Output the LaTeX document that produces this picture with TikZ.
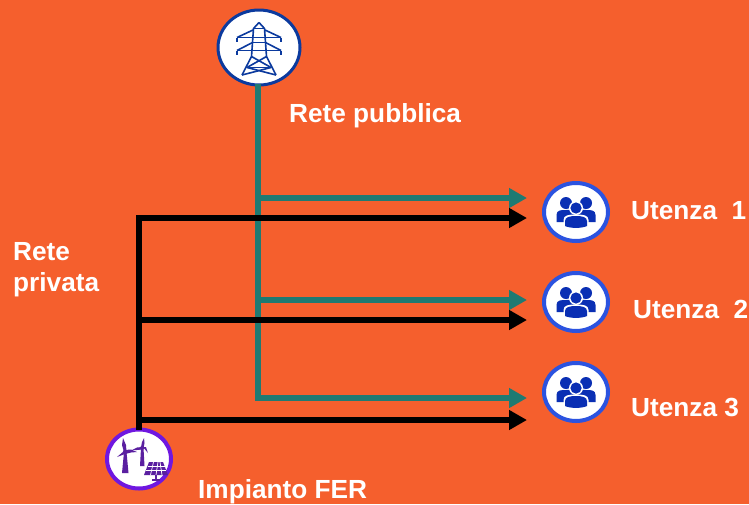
\documentclass[tikz,border=0pt]{standalone}
\usepackage{fontspec}
\setmainfont{Liberation Sans}
\usetikzlibrary{arrows.meta,shapes.geometric}
\definecolor{bgor}{HTML}{F55F2D}
\definecolor{teal1}{HTML}{1F7A72}
\definecolor{blue1}{HTML}{2B53E0}
\definecolor{navy1}{HTML}{0B3A9E}
\definecolor{ppl}{HTML}{0A2FB4}
\definecolor{vio}{HTML}{6F17E0}
\definecolor{vio2}{HTML}{5A1FA0}
\tikzset{
 lab/.style={text=white,font=\bfseries\fontsize{26.2}{31}\selectfont,inner sep=0pt,anchor=base west,align=left},
 disc/.style={ellipse,draw,fill=white,line width=3pt,inner sep=0pt,outer sep=0pt,minimum width=#1},
 tealline/.style={draw=teal1,line width=6.5pt},
 blackline/.style={draw=black,line width=6.5pt},
 tealarrow/.style={tealline,-{Triangle[length=18pt,width=19pt]}},
 blackarrow/.style={blackline,-{Triangle[length=18pt,width=19pt]}},
 group/.pic={
   \fill[ppl] (-10,-9) circle (6);
   \fill[ppl] (10,-9) circle (6);
   \fill[ppl] (-19.5,10) -- (-19.5,3) .. controls (-19.5,-2) and (-15,-2) .. (-10,-2) .. controls (-6,-2) and (-1,-3) .. (0,2) -- (0,10) -- cycle;
   \fill[ppl] (19.5,10) -- (19.5,3) .. controls (19.5,-2) and (15,-2) .. (10,-2) .. controls (6,-2) and (1,-3) .. (0,2) -- (0,10) -- cycle;
   \fill[white] (0,-4) circle (7);
   \fill[white] (-12.5,17) -- (-12.5,8) .. controls (-12.5,3) and (-7,2.5) .. (0,2.5) .. controls (7,2.5) and (12.5,3) .. (12.5,8) -- (12.5,17) -- cycle;
   \fill[ppl] (0,-4) circle (5.6);
   \fill[ppl] (-11,14) -- (-11,9) .. controls (-11,5) and (-6,4) .. (0,4) .. controls (6,4) and (11,5) .. (11,9) -- (11,14) .. controls (6,16.5) and (-6,16.5) .. (-11,14) -- cycle;
 }
}
\begin{document}
\begin{tikzpicture}[x=1pt,y=-1pt]
\useasboundingbox (0,0) rectangle (749,504);
\fill[bgor] (0,0) rectangle (749,504);

% junctions and arrow ends
\coordinate (tb) at (258,401);
\coordinate (t1) at (255,198);
\coordinate (t2) at (255,300);
\coordinate (t3) at (255,398);
\coordinate (e1) at (527,198);
\coordinate (e2) at (527,300);
\coordinate (e3) at (527,398);
\coordinate (bt) at (139,215);
\coordinate (bh) at (136,218);
\coordinate (b2) at (139,320);
\coordinate (b3) at (139,420);
\coordinate (f1) at (527,218);
\coordinate (f2) at (527,320);
\coordinate (f3) at (527,420);

% nodes
\node[disc=82pt,minimum height=75pt,draw=navy1] (pub) at (259,47.5) {};
\node[disc=64pt,minimum height=59pt,draw=vio,line width=4pt] (fer) at (139,459) {};
\node[disc=64pt,minimum height=58pt,draw=blue1,line width=4pt] (u1) at (576,212) {};
\node[disc=64pt,minimum height=58pt,draw=blue1,line width=4pt] (u2) at (576,302) {};
\node[disc=64pt,minimum height=58pt,draw=blue1,line width=4pt] (u3) at (576,392) {};

% connectors
\draw[tealline] ([yshift=1.5pt]pub.south -| tb) -- (tb);
\draw[tealarrow] (t1) -- (e1);
\draw[tealarrow] (t2) -- (e2);
\draw[tealarrow] (t3) -- (e3);
\draw[blackline] (fer.north) -- (bt);
\draw[blackarrow] (bh) -- (f1);
\draw[blackarrow] (b2) -- (f2);
\draw[blackarrow] (b3) -- (f3);

% pylon icon
\begin{scope}[shift={(259,47.5)},draw=navy1,line width=1.6pt,line join=round]
\draw (0,-25) -- (-5.5,-19) -- (-7.5,9) -- (-17,27.5);
\draw (0,-25) -- (5.5,-19) -- (7.5,9) -- (17,27.5);
\draw (-5.5,-19) -- (5.5,-19);
\draw (-22,-10) -- (-6,-17.5) (22,-10) -- (6,-17.5);
\draw (-22,-10) -- (22,-10);
\draw (-22,-10) -- (-22,-6) (22,-10) -- (22,-6);
\draw (-6,-5) -- (6,-5);
\draw (-22,3) -- (-6.5,-5) (22,3) -- (6.5,-5);
\draw (-22,3) -- (22,3);
\draw (-22,3) -- (-22,7) (22,3) -- (22,7);
\draw (-7.5,9) -- (12,20) -- (-17,27.5);
\draw (7.5,9) -- (-12,20) -- (17,27.5);
\draw (-12,20) -- (12,20);
\end{scope}

% people icons
\path (576,212) pic {group};
\path (576,302) pic {group};
\path (576,392) pic {group};

% renewable plant icon: two turbines and a solar panel
\fill[vio2] (124,452) -- (126.5,452) -- (128.5,473) -- (122,473) -- cycle;
\fill[vio2] (125,452) circle (2.2);
\fill[vio2] (124,452) -- (122,445) -- (123,438) -- (126,445) -- (126.5,452) -- cycle;
\fill[vio2] (124,451) -- (117,457) -- (125,454) -- cycle;
\fill[vio2] (125,450) -- (131,449.5) -- (137,452) -- (131,452.5) -- (125,454) -- cycle;
\fill[vio2] (141,448) -- (143.5,448) -- (144.5,466) -- (140,466) -- cycle;
\fill[vio2] (142,448) circle (2);
\fill[vio2] (141,447) -- (142,442) -- (144,438) -- (144.5,443) -- (143.5,448) -- cycle;
\fill[vio2] (142,447) -- (137,447.5) -- (132,450) -- (137,450) -- (142,449.5) -- cycle;
\fill[vio2] (143,447) -- (148,453) -- (146,447) -- cycle;
\begin{scope}
\fill[vio2] (149,462) -- (163,462) -- (168,475) -- (144,475) -- cycle;
\draw[white,line width=.7pt] (147.5,466.2) -- (164.6,466.2) (146,470.5) -- (166.2,470.5);
\draw[white,line width=.7pt] (153.5,462) -- (150.5,475) (158,462) -- (156,475) (160,462) -- (162,475);
\draw[vio2,line width=1.5pt] (156,475) -- (156,480) (152,480) -- (160,480);
\end{scope}

% labels
\node[lab] (l0) at (289,122) {Rete pubblica};
\node[lab] (l1) at (631,219) {Utenza\ \ 1};
\node[lab] (l2) at (633,318) {Utenza\ \ 2};
\node[lab] (l3) at (631,416) {Utenza 3};
\node[lab] (l4) at (13,291) {Rete\\privata};
\node[lab] (l6) at (198,498) {Impianto FER};
\end{tikzpicture}
\end{document}
